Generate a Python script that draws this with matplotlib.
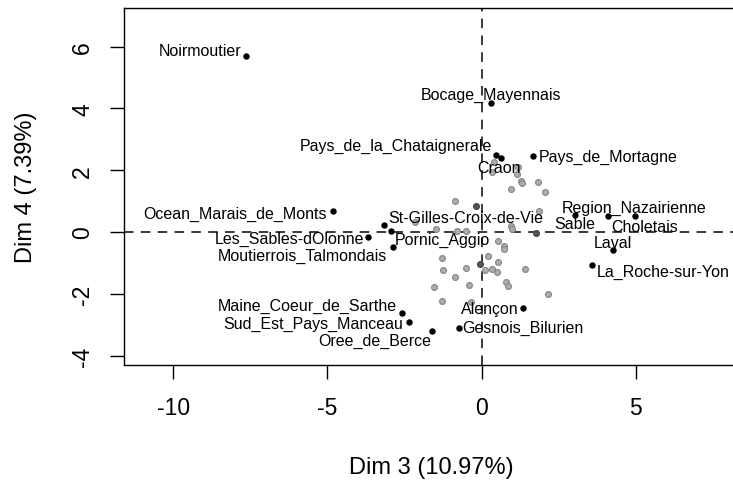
import matplotlib
matplotlib.use("Agg")
import matplotlib.pyplot as plt

plt.rcParams['font.family'] = ['Liberation Sans', 'DejaVu Sans']

# labelled individuals (Dim 3, Dim 4)
names = ["Noirmoutier", "Bocage_Mayennais", "Pays_de_la_Chataignerale", "Craon",
         "Pays_de_Mortagne", "Sable", "Choletais", "Region_Nazairienne", "Laval",
         "La_Roche-sur-Yon", "Ocean_Marais_de_Monts", "St-Gilles-Croix-de-Vie",
         "Pornic_Aggio", "Les_Sables-dOlonne", "Moutierrois_Talmondais",
         "Maine_Coeur_de_Sarthe", "Sud_Est_Pays_Manceau", "Oree_de_Berce",
         "Alençon", "Gesnois_Bilurien"]
dim3 = [-7.64, 0.31, 0.48, 0.64, 1.66, 3.01, 4.11, 4.98, 4.25, 3.57,
        -4.81, -3.16, -2.95, -3.68, -2.87, -2.57, -2.35, -1.61, 1.34, -0.73]
dim4 = [5.69, 4.18, 2.50, 2.40, 2.45, 0.56, 0.51, 0.53, -0.58, -1.06,
        0.67, 0.24, 0.03, -0.17, -0.49, -2.63, -2.92, -3.21, -2.46, -3.10]

# other individuals, drawn in grey
grey3 = [0.40, 0.33, 1.18, 1.16, 1.29, 1.30, 1.82, 0.96, 2.04, -0.87,
         1.85, -2.17, 0.94, 0.99, -1.47, -0.79, -0.50, 0.53, 0.72, 0.72,
         -1.27, 0.20, 0.53, -1.25, -0.50, 0.10, 0.35, 0.50, 1.39, -0.87,
         -0.41, 0.80, 0.84, -1.54, 2.16, -1.27, -0.36]
grey4 = [2.28, 1.94, 2.10, 1.88, 1.66, 1.58, 1.61, 1.39, 1.29, 1.00,
         0.67, 0.34, 0.19, 0.11, 0.10, 0.03, 0.03, -0.28, -0.46, -0.56,
         -0.85, -0.76, -0.96, -1.23, -1.17, -1.23, -1.18, -1.28, -1.21, -1.44,
         -1.72, -1.61, -1.74, -1.79, -1.99, -2.24, -2.27]
dark3 = [-0.19, 1.77, -0.05]
dark4 = [0.85, -0.04, -1.04]

# label offsets in pixels from each point
label_dx = [-46, 0, -101, -2, 75, 0, 36, -1, 0, 71,
            -98, 82, 52, -79, -91, -95, -96, -57, -33, 64]
label_dy = [6, 8, 9, -10, 0, -9, -10, 8, 8, -7,
            -2, 7, -8, -1, -8, 8, -1, -9, 0, 0]

fig = plt.figure(figsize=(7.33, 4.81), dpi=100)
ax = fig.add_axes([0.1685, 0.2391, 0.8400, 0.7422])

ax.axhline(0, color="#222222", lw=1.25, ls=(0, (5.5, 4.2)), zorder=1)
ax.axvline(0, color="#222222", lw=1.25, ls=(0, (5.5, 4.2)), zorder=1)

ax.scatter(grey3, grey4, s=18, facecolor="#adadad", edgecolor="#858585",
           linewidths=0.8, zorder=2)
ax.scatter(dark3, dark4, s=18, facecolor="#555555", edgecolor="#444444",
           linewidths=0.8, zorder=2)
ax.scatter(dim3, dim4, s=13, color="black", zorder=3)

for name, x, y, dx, dy in zip(names, dim3, dim4, label_dx, label_dy):
    ax.annotate(name, (x, y), xytext=(dx, dy), textcoords="offset pixels",
                ha="center", va="center", fontsize=11.5, color="black", zorder=4)

ax.set_xlim(-11.61, 8.35)
ax.set_ylim(-4.30, 7.25)
ax.set_xticks([-10, -5, 0, 5])
ax.set_yticks([-4, -2, 0, 2, 4, 6])
ax.set_xticklabels(["-10", "-5", "0", "5"])
ax.set_yticklabels(["-4", "-2", "0", "2", "4", "6"], rotation=90, va="center")
ax.tick_params(axis="both", length=10, width=1, labelsize=16.5, direction="out")
ax.tick_params(axis="x", pad=12)
ax.tick_params(axis="y", pad=11)
for sp in ax.spines.values():
    sp.set_linewidth(1.0)

ax.set_xlabel("Dim 3 (10.97%)", fontsize=17, labelpad=27)
ax.set_ylabel("Dim 4 (7.39%)", fontsize=17, labelpad=25)

fig.savefig("out.png", dpi=100)
